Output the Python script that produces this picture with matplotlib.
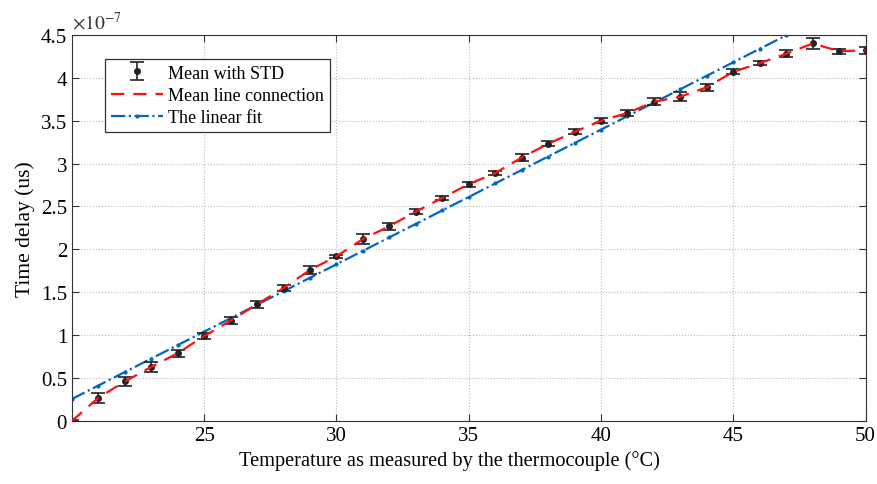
import numpy as np
import matplotlib
matplotlib.use("Agg")
import matplotlib.pyplot as plt
from matplotlib.ticker import FuncFormatter

# temperature (degC) and mean delay (x1e-7)
temp = np.arange(20, 51)
mean_delay = [0.00, 0.27, 0.46, 0.63, 0.79, 0.99, 1.17, 1.36, 1.55, 1.76,
              1.92, 2.12, 2.27, 2.44, 2.60, 2.76, 2.89, 3.07, 3.23, 3.37,
              3.50, 3.59, 3.72, 3.78, 3.89, 4.07, 4.17, 4.28, 4.40, 4.31,
              4.32]
std_delay = [0.01, 0.06, 0.05, 0.06, 0.04, 0.04, 0.04, 0.04, 0.04, 0.05,
             0.02, 0.06, 0.04, 0.03, 0.02, 0.03, 0.02, 0.04, 0.03, 0.03,
             0.03, 0.04, 0.04, 0.05, 0.04, 0.03, 0.02, 0.04, 0.06, 0.03,
             0.04]
# linear fit coefficients
fit_slope = 0.157
fit_intercept = 0.256

plt.rcParams['font.family'] = ['Liberation Serif', 'DejaVu Serif']
plt.rcParams['mathtext.fontset'] = 'stix'

fig = plt.figure(figsize=(8.77, 4.85), dpi=100)
ax = fig.add_axes([0.082, 0.13, 0.905, 0.796])

ax.errorbar(temp, mean_delay, yerr=std_delay, fmt='o', color='#222222',
            markersize=4, capsize=5, elinewidth=1.2, capthick=1.2,
            label='Mean with STD', zorder=3)
ax.plot(temp, mean_delay, '--', color='#ff1010', lw=1.6, dashes=(6, 4),
        label='Mean line connection', zorder=4)
fit_x = np.arange(20, 51)
fit_y = fit_slope * (fit_x - 20) + fit_intercept
ax.plot(fit_x, fit_y, '-.', color='#0066c0', lw=1.6, marker='.',
        markersize=4, label='The linear fit', zorder=2)

ax.set_xlim(20, 50)
ax.set_ylim(0, 4.5)
ax.set_xticks([25, 30, 35, 40, 45, 50])
ax.set_yticks(np.arange(0, 4.51, 0.5))
ax.yaxis.set_major_formatter(FuncFormatter(lambda v, p: '%g' % v))
ax.tick_params(direction='in', top=True, right=True, labelsize=15,
               length=5, color='#333333')
ax.grid(True, linestyle=':', color='#bbbbbb', lw=0.8)
for s in ax.spines.values():
    s.set_color('#333333')

ax.set_xlabel('Temperature as measured by the thermocouple (\u00b0C)', fontsize=14.7)
ax.xaxis.set_label_coords(0.476, -0.075)
ax.set_ylabel('Time delay (us)', fontsize=15.5, labelpad=4)
ax.text(0.0, 1.005, r'$\times10^{-7}$', transform=ax.transAxes, fontsize=14,
        ha='left', va='bottom', color='#333333')

handles, labels = ax.get_legend_handles_labels()
order = [labels.index('Mean with STD'), labels.index('Mean line connection'),
         labels.index('The linear fit')]
leg = ax.legend([handles[i] for i in order], [labels[i] for i in order],
                loc='upper left', bbox_to_anchor=(0.042, 0.937), fontsize=13,
                fancybox=False, edgecolor='#333333', framealpha=1,
                borderpad=0.3, handlelength=2.9, handletextpad=0.3,
                labelspacing=0.3, borderaxespad=0)
leg.get_frame().set_linewidth(0.9)

fig.savefig('out.png', dpi=100)
